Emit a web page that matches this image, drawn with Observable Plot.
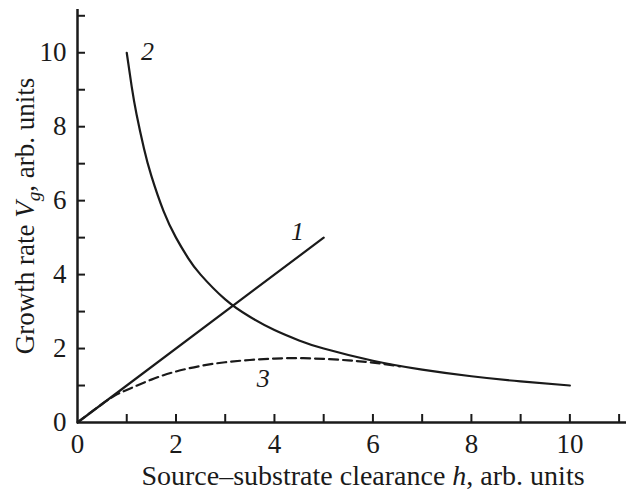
<!DOCTYPE html>
<html>
<head>
<meta charset="utf-8">
<script src="https://cdn.jsdelivr.net/npm/d3@7"></script>
<script src="https://cdn.jsdelivr.net/npm/@observablehq/plot@0.6"></script>
<style>
  html, body { margin: 0; padding: 0; background: #fff; }
</style>
</head>
<body>
<div id="chart"></div>
<script>
// Curve 1: linear growth
const line1X = [0, 5];
const line1Y = [0, 5];
// Curve 2: decreasing curve
const curve2X = [1, 1.1, 1.2, 1.35, 1.5, 1.75, 2, 2.25, 2.5, 3, 3.5, 4, 4.5, 5, 6, 7, 8, 9, 10];
const curve2Y = [10, 9.09, 8.33, 7.41, 6.67, 5.71, 5.0, 4.44, 4.0, 3.33, 2.86, 2.5, 2.22, 2.0, 1.67, 1.43, 1.25, 1.11, 1.0];
// Curve 3: dashed curve
const curve3X = [0, 0.5, 0.8, 1, 1.5, 2, 2.5, 3, 3.5, 4, 4.5, 5, 5.5, 6, 6.55];
const curve3Y = [0, 0.5, 0.76, 0.88, 1.16, 1.38, 1.53, 1.63, 1.69, 1.73, 1.74, 1.72, 1.68, 1.62, 1.52];
// Curve labels
const curveLabels = ["1", "2", "3"];
const labelX = [4.47, 1.42, 3.77];
const labelY = [5.17, 10.03, 1.19];
// Axes
const xTickLabels = [0, 2, 4, 6, 8, 10];
const yTickLabels = [0, 2, 4, 6, 8, 10];
const xMinorTicks = [1, 2, 3, 4, 5, 6, 7, 8, 9, 10, 11];
const yMinorTicks = [1, 2, 3, 4, 5, 6, 7, 8, 9, 10, 11];
const xTitle = "Source–substrate clearance h, arb. units";
const yTitle = "Growth rate Vg, arb. units";

const line1 = line1X.map((x, i) => ({x, y: line1Y[i]}));
const curve2 = curve2X.map((x, i) => ({x, y: curve2Y[i]}));
const curve3 = curve3X.map((x, i) => ({x, y: curve3Y[i]}));
const labels = curveLabels.map((t, i) => ({t, x: labelX[i], y: labelY[i]}));

const ink = "#1a1a1a";

const chart = Plot.plot({
  width: 626,
  height: 491,
  marginLeft: 77,
  marginRight: 0,
  marginTop: 9,
  marginBottom: 69,
  style: {fontFamily: "'Liberation Serif', 'Times New Roman', serif", fontSize: "27px", background: "#fff", color: ink},
  x: {domain: [0, 11.15]},
  y: {domain: [0, 11.17]},
  marks: [
    Plot.axisX({ticks: xTickLabels, tickSize: 0, tickPadding: 11, label: null, fontSize: 27}),
    Plot.axisY({ticks: yTickLabels, tickSize: 0, tickPadding: 11, label: null, fontSize: 27}),
    Plot.ruleX(xMinorTicks, {x: d => d, y1: 0, y2: 0, insetTop: -8, stroke: ink, strokeWidth: 2}),
    Plot.ruleY(yMinorTicks, {y: d => d, x1: 0, x2: 0, insetRight: -8, stroke: ink, strokeWidth: 2}),
    Plot.ruleY([0], {stroke: ink, strokeWidth: 2.5}),
    Plot.ruleX([0], {stroke: ink, strokeWidth: 2.5}),
    Plot.line(line1, {x: "x", y: "y", stroke: ink, strokeWidth: 2.2}),
    Plot.line(curve2, {x: "x", y: "y", stroke: ink, strokeWidth: 2.2, curve: "natural"}),
    Plot.line(curve3, {x: "x", y: "y", stroke: ink, strokeWidth: 2.2, strokeDasharray: "9,5", curve: "natural"}),
    Plot.text(labels, {x: "x", y: "y", text: "t", fontStyle: "italic", fontSize: 26, fill: ink}),
    Plot.text([xTitle], {frameAnchor: "bottom", lineAnchor: "middle", textAnchor: "middle", dx: 11, dy: 54, text: d => d, fontSize: 28, fill: ink, className: "xtitle"}),
    Plot.text([yTitle], {frameAnchor: "left", lineAnchor: "middle", textAnchor: "middle", rotate: -90, dx: -52, text: d => d, fontSize: 27, fill: ink, className: "ytitle"})
  ]
});

document.getElementById("chart").appendChild(chart);

// Rich formatting for the axis titles (italic symbols, subscript)
const xt = d3.select(chart).select(".xtitle text");
xt.text(null);
xt.append("tspan").text("Source–substrate clearance ");
xt.append("tspan").attr("font-style", "italic").text("h");
xt.append("tspan").text(", arb. units");

const yt = d3.select(chart).select(".ytitle text");
yt.text(null);
yt.append("tspan").text("Growth rate ");
yt.append("tspan").attr("font-style", "italic").text("V");
yt.append("tspan").attr("font-style", "italic").attr("font-size", "19px").attr("dy", "6").text("g");
yt.append("tspan").attr("dy", "-6").text(", arb. units");
</script>
</body>
</html>
